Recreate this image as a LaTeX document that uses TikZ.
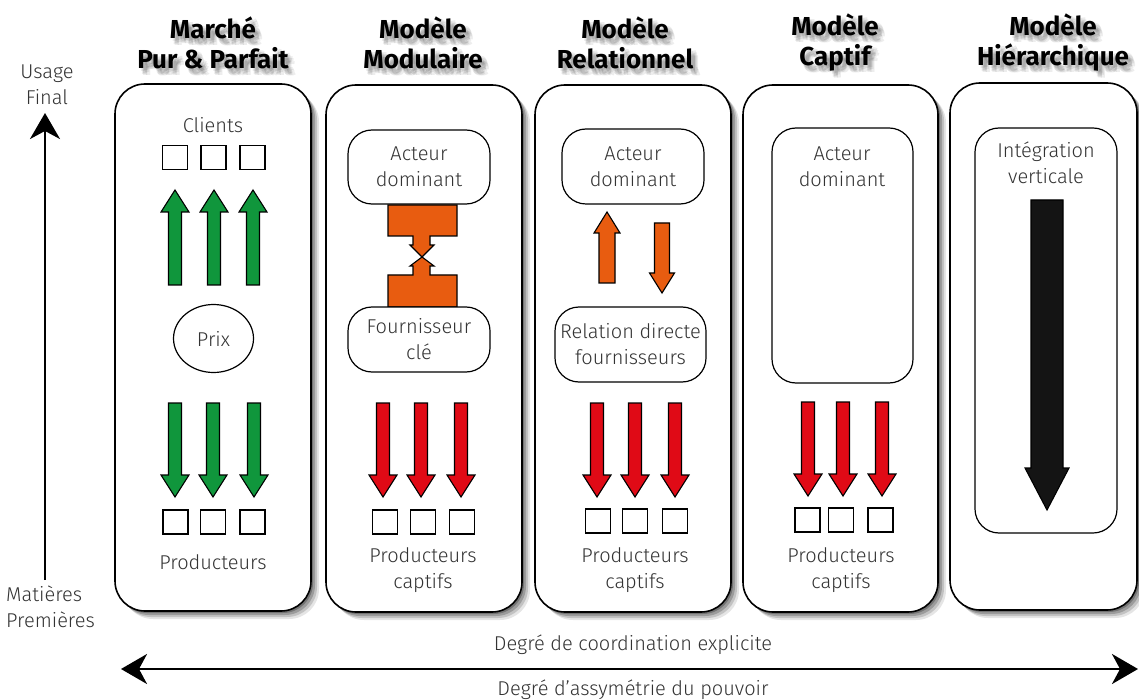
\documentclass[tikz,border=0pt]{standalone}
\usepackage{fontspec}
\setmainfont{Fira Sans}[UprightFont=* Light, BoldFont=* Bold]
\usetikzlibrary{arrows.meta,shapes.geometric,shadows}
\definecolor{cgreen}{HTML}{10963C}
\definecolor{cred}{HTML}{E00A16}
\definecolor{corange}{HTML}{E85C10}
\definecolor{ctext}{HTML}{333333}
\definecolor{cblack}{HTML}{141414}
\newcommand\blkarrow[7]{% x, tail y, tip y, half shaft, half head, head length, colour
  \pgfmathsetmacro\bdir{ifthenelse(#3>#2,1,-1)}
  \pgfmathsetmacro\bhb{#3-\bdir*#6}
  \draw[blockarr,fill=#7] (#1-#4,#2) -- (#1-#4,\bhb) -- (#1-#5,\bhb) -- (#1,#3) -- (#1+#5,\bhb) -- (#1+#4,\bhb) -- (#1+#4,#2) -- cycle;}
\tikzset{
  panel/.style={draw=black,line width=1.6pt,rounded corners=30pt,fill=white,inner sep=0pt,
    drop shadow={shadow xshift=2pt,shadow yshift=-2pt,opacity=.25,fill=black},
    drop shadow={shadow xshift=4pt,shadow yshift=-4pt,opacity=.2,fill=black},
    drop shadow={shadow xshift=6pt,shadow yshift=-6pt,opacity=.15,fill=black},
    drop shadow={shadow xshift=8pt,shadow yshift=-8pt,opacity=.1,fill=black}},
  ibox/.style={draw=black,line width=1.2pt,rounded corners=24pt,fill=white,inner sep=0pt,
    align=center,text=ctext,font=\fontsize{20}{26}\selectfont},
  body/.style={text=ctext,align=center,inner sep=0pt,font=\fontsize{20}{26}\selectfont},
  ttl/.style={text=black,align=center,inner sep=0pt,font=\bfseries\fontsize{26}{30}\selectfont},
  ttlsh/.style={ttl,text=black,text opacity=.07},
  sq/.style={draw=black,line width=1.2pt,minimum width=25pt,minimum height=24pt,inner sep=0pt},
  blockarr/.style={draw=black,line width=1.1pt,line join=miter},
  axis/.style={line width=2.6pt,draw=black},
}
\newcommand\ttlnode[3]{%
  \foreach \dx/\dy [count=\k] in {2/3,4/5,6/4,4/7,7/7,3/6,5/2}{\node[ttlsh] (#1s\k) at (#2+\dx,43+\dy) {#3};}
  \node[ttl] (#1) at (#2,43) {#3};}
\begin{document}
\begin{tikzpicture}[x=1pt,y=-1pt]
\useasboundingbox[fill=white] (0,0) rectangle (1139,700);

% titles
\ttlnode{t1}{213}{Marché\\Pur \& Parfait}
\ttlnode{t2}{423}{Modèle\\Modulaire}
\ttlnode{t3}{625}{Modèle\\Relationnel}
\ttlnode{t4}{835}{Modèle\\Captif}
\ttlnode{t5}{1053}{Modèle\\Hiérarchique}

% panels
\node[panel,minimum width=196pt,minimum height=527pt] (p1) at (213,347.5) {};
\node[panel,minimum width=196pt,minimum height=527pt] (p2) at (424,348.5) {};
\node[panel,minimum width=196pt,minimum height=527pt] (p3) at (633,348.5) {};
\node[panel,minimum width=195pt,minimum height=527pt] (p4) at (840.5,348.5) {};
\node[panel,minimum width=187pt,minimum height=527pt] (p5) at (1043.5,346.5) {};

% left axis
\coordinate (ab) at (45,580);
\coordinate (at) at (45,113);
\draw[axis,-{Stealth[length=26pt,width=30pt,inset=8pt]}] (ab) -- (at);
\node[body] (uf) at (47,85) {Usage\\Final};
\node[body,align=left,anchor=west] (mp) at (6,607) {Matières\\Premières};

% bottom axis
\coordinate (bl) at (121,669);
\coordinate (br) at (1138,669);
\draw[axis,{Stealth[length=26pt,width=30pt,inset=8pt]}-{Stealth[length=26pt,width=30pt,inset=8pt]}] (bl) -- (br);
\node[body] (dc) at (633,645) {Degré de coordination explicite};
\node[body] (da) at (633,690) {Degré d’assymétrie du pouvoir};

% ---- panel 1
\node[body] (cl) at (213,125) {Clients};
\node[sq] (c1) at (175,157.5) {};
\node[sq] (c2) at (213.5,157.5) {};
\node[sq] (c3) at (252.5,157.5) {};
\blkarrow{175}{285}{190}{6.5}{14}{22}{cgreen}
\blkarrow{214}{285}{190}{6.5}{14}{22}{cgreen}
\blkarrow{253}{285}{190}{6.5}{14}{22}{cgreen}
\node[ellipse,draw=black,line width=1.2pt,minimum width=80pt,minimum height=68pt,inner sep=0pt,text=ctext,font=\fontsize{20}{26}\selectfont] (prix) at (213.5,338.5) {Prix};
\blkarrow{175}{403}{497}{6.5}{14}{22}{cgreen}
\blkarrow{213}{403}{497}{6.5}{14}{22}{cgreen}
\blkarrow{254}{403}{497}{6.5}{14}{22}{cgreen}
\node[sq] (pa1) at (175.5,522) {};
\node[sq] (pa2) at (213,522) {};
\node[sq] (pa3) at (252.5,522) {};
\node[body] (prA) at (213,562) {Producteurs};

% ---- panel 2
\node[ibox,minimum width=142pt,minimum height=74pt] (ad2) at (419,167) {Acteur\\dominant};
\draw[blockarr,fill=corange] (388,205) -- (457,205) -- (457,236) -- (430,236) -- (430,245) -- (434,245)
  -- (422,257) -- (434,266) -- (430,266) -- (430,275) -- (457,275) -- (457,307) -- (388,307)
  -- (388,275) -- (413,275) -- (413,266) -- (410,266) -- (422,257) -- (410,245) -- (413,245)
  -- (413,236) -- (388,236) -- cycle;
\node[ibox,minimum width=142pt,minimum height=65pt] (fc) at (419,339.5) {Fournisseur\\clé};
\blkarrow{383}{403}{497}{6.5}{14}{22}{cred}
\blkarrow{421}{403}{497}{6.5}{14}{22}{cred}
\blkarrow{461}{403}{497}{6.5}{14}{22}{cred}
\node[sq] (pb1) at (385,522) {};
\node[sq] (pb2) at (423,522) {};
\node[sq] (pb3) at (462,522) {};
\node[body] (prB) at (423,570) {Producteurs\\captifs};

% ---- panel 3
\node[ibox,minimum width=142pt,minimum height=75pt] (ad3) at (633,166.5) {Acteur\\dominant};
\blkarrow{607}{283}{212}{8}{13}{21}{corange}
\blkarrow{662}{223}{293}{7.5}{12.5}{20}{corange}
\node[ibox,minimum width=151pt,minimum height=75pt] (rd) at (630.5,344.5) {Relation directe\\fournisseurs};
\blkarrow{597}{403}{497}{6.5}{14}{22}{cred}
\blkarrow{635}{403}{497}{6.5}{14}{22}{cred}
\blkarrow{675}{403}{497}{6.5}{14}{22}{cred}
\node[sq] (pc1) at (598,521) {};
\node[sq] (pc2) at (635,521) {};
\node[sq] (pc3) at (675,521) {};
\node[body] (prC) at (635,570) {Producteurs\\captifs};

% ---- panel 4
\node[ibox,minimum width=141pt,minimum height=255pt] (ad4) at (842.5,255.5) {};
\node[body] (ad4t) at (842,167) {Acteur\\dominant};
\blkarrow{808}{402}{496}{6.5}{14}{22}{cred}
\blkarrow{843}{402}{496}{6.5}{14}{22}{cred}
\blkarrow{882}{402}{496}{6.5}{14}{22}{cred}
\node[sq] (pd1) at (807.5,520) {};
\node[sq] (pd2) at (841,520) {};
\node[sq] (pd3) at (880.5,520) {};
\node[body] (prD) at (841,570) {Producteurs\\captifs};

% ---- panel 5
\node[ibox,minimum width=142pt,minimum height=405pt] (iv) at (1046,330.5) {};
\node[body] (ivt) at (1046,163) {Intégration\\verticale};
\blkarrow{1047}{200}{510}{16}{22}{42}{cblack}
\end{tikzpicture}
\end{document}
